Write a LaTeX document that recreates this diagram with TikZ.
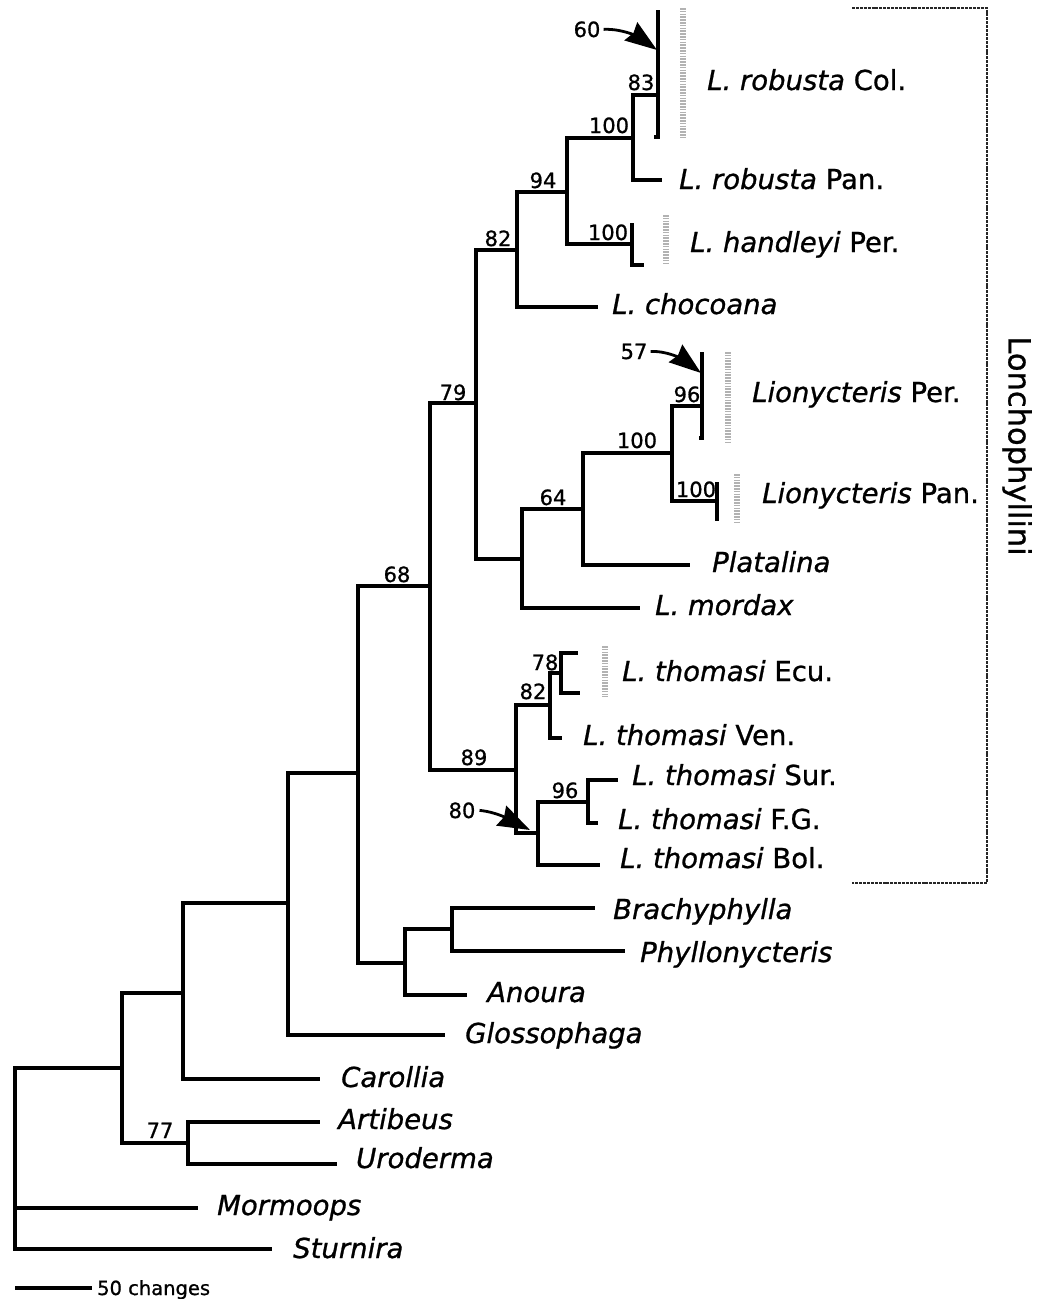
\documentclass[tikz,border=0pt]{standalone}
\usepackage{fontspec}
\setmainfont{DejaVu Sans}[FakeBold=0.9]
\usetikzlibrary{arrows.meta}
\begin{document}
\begin{tikzpicture}[x=1pt,y=-1pt,
  br/.style={line width=3.3pt, line join=miter},
  bar/.style={line width=3.8pt, line join=miter},
  tiplabel/.style={anchor=base west, inner sep=0pt, font=\fontsize{27.5}{30}\selectfont},
  bs/.style={anchor=base, inner sep=0pt, font=\fontsize{21}{23}\selectfont},
  pointer/.style={line width=2.8pt, -{Stealth[length=32pt,width=22pt,inset=3pt]}},
  speck/.style={line width=5.5pt, black!30, dash pattern=on 1.6pt off 1.2pt},
  clade/.style={line width=2.6pt, black!85, dash pattern=on 3pt off 0.9pt}]
\useasboundingbox (0,0) rectangle (1038,1299);

% ---- internal nodes
\coordinate (root) at (15,1150);
\coordinate (n1) at (122,1068);
\coordinate (n2) at (183,993);
\coordinate (nAU) at (188,1143);
\coordinate (n3) at (288,903);
\coordinate (n4) at (358,773);
\coordinate (nBA) at (405,963);
\coordinate (nBP) at (452,929);
\coordinate (n68) at (430,586);
\coordinate (n79) at (476,403);
\coordinate (n89) at (516,770);
\coordinate (n82) at (517,250);
\coordinate (n94) at (567,192);
\coordinate (nR) at (633,138);
\coordinate (n83) at (658,95);
\coordinate (nH) at (632,244);
\coordinate (nM) at (522,559);
\coordinate (n64) at (583,509);
\coordinate (nL) at (672,453);
\coordinate (n96) at (702,406);
\coordinate (nLP) at (717,501);
\coordinate (nT82) at (550,705);
\coordinate (n78) at (561,673);
\coordinate (n80) at (538,833);
\coordinate (nT96) at (588,802);

% ---- tip ends
\coordinate (tMor) at (198,1208);
\coordinate (tStu) at (272,1249);
\coordinate (tCar) at (320,1079);
\coordinate (tArt) at (320,1122);
\coordinate (tUro) at (337,1164);
\coordinate (tGlo) at (445,1035);
\coordinate (tAno) at (467,995);
\coordinate (tBra) at (595,908);
\coordinate (tPhy) at (625,951);
\coordinate (tCho) at (598,307);
\coordinate (tRP) at (662,180);
\coordinate (tMorX) at (640,608);
\coordinate (tPla) at (690,565);
\coordinate (tVen) at (562,738);
\coordinate (tEcuA) at (578,653);
\coordinate (tEcuB) at (580,693);
\coordinate (tSur) at (618,780);
\coordinate (tFG) at (598,823);
\coordinate (tBol) at (600,865);

% ---- branches
\draw[br] (root) |- (n1);
\draw[br] (root) |- (tMor);
\draw[br] (root) |- (tStu);
\draw[br] (n1) |- (n2);
\draw[br] (n1) |- (nAU);
\draw[br] (nAU) |- (tArt);
\draw[br] (nAU) |- (tUro);
\draw[br] (n2) |- (n3);
\draw[br] (n2) |- (tCar);
\draw[br] (n3) |- (n4);
\draw[br] (n3) |- (tGlo);
\draw[br] (n4) |- (n68);
\draw[br] (n4) |- (nBA);
\draw[br] (nBA) |- (nBP);
\draw[br] (nBA) |- (tAno);
\draw[br] (nBP) |- (tBra);
\draw[br] (nBP) |- (tPhy);
\draw[br] (n68) |- (n79);
\draw[br] (n68) |- (n89);
\draw[br] (n79) |- (n82);
\draw[br] (n79) |- (nM);
\draw[br] (n82) |- (n94);
\draw[br] (n82) |- (tCho);
\draw[br] (n94) |- (nR);
\draw[br] (n94) |- (nH);
\draw[br] (nR) |- (n83);
\draw[br] (nR) |- (tRP);
\draw[br] (nM) |- (n64);
\draw[br] (nM) |- (tMorX);
\draw[br] (n64) |- (nL);
\draw[br] (n64) |- (tPla);
\draw[br] (nL) |- (n96);
\draw[br] (nL) |- (nLP);
\draw[br] (n89) |- (nT82);
\draw[br] (n89) |- (n80);
\draw[br] (nT82) |- (n78);
\draw[br] (nT82) |- (tVen);
\draw[br] (n78) |- (tEcuA);
\draw[br] (n78) |- (tEcuB);
\draw[br] (n80) |- (nT96);
\draw[br] (n80) |- (tBol);
\draw[br] (nT96) |- (tSur);
\draw[br] (nT96) |- (tFG);

% ---- collapsed sample bars
\coordinate (b83a) at (658,10);  \coordinate (b83b) at (658,137); \coordinate (b83c) at (654,137);
\coordinate (b96a) at (702,352); \coordinate (b96b) at (702,438); \coordinate (b96c) at (699,438);
\coordinate (bLPa) at (717,482); \coordinate (bLPb) at (717,521);
\coordinate (bHa) at (632,223);  \coordinate (bHb) at (632,265);  \coordinate (bHc) at (644,265);
\draw[bar] (b83a) -- (b83b) -- (b83c);
\draw[bar] (b96a) -- (b96b) -- (b96c);
\draw[bar] (bLPa) -- (bLPb);
\draw[br] (bHa) -- (bHb) -- (bHc);

% ---- grey stippled sample bars
\draw[speck] (683,8) -- (683,137);
\draw[speck] (666,215) -- (666,265);
\draw[speck] (728,352) -- (728,442);
\draw[speck] (737,474) -- (737,524);
\draw[speck] (605,646) -- (605,697);

% ---- clade bracket
\coordinate (k1) at (852,8); \coordinate (k2) at (987,8);
\coordinate (k3) at (987,883); \coordinate (k4) at (852,883);
\draw[clade] (k1) -- (k2) -- (k3) -- (k4);
\node[rotate=-90, inner sep=0pt, font=\fontsize{30.5}{32}\selectfont] (lon) at (1017,446) {Lonchophyllini};

% ---- tip labels
\node[tiplabel] (lRC) at (707,90) {\textit{L. robusta} Col.};
\node[tiplabel] (lRP) at (679,189) {\textit{L. robusta} Pan.};
\node[tiplabel] (lHP) at (690,252) {\textit{L. handleyi} Per.};
\node[tiplabel] (lCh) at (612,314) {\textit{L. chocoana}};
\node[tiplabel] (lLPe) at (752,402) {\textit{Lionycteris} Per.};
\node[tiplabel] (lLPa) at (762,503) {\textit{Lionycteris} Pan.};
\node[tiplabel] (lPl) at (712,572) {\textit{Platalina}};
\node[tiplabel] (lMo) at (655,615) {\textit{L. mordax}};
\node[tiplabel] (lTE) at (622,681) {\textit{L. thomasi} Ecu.};
\node[tiplabel] (lTV) at (583,745) {\textit{L. thomasi} Ven.};
\node[tiplabel] (lTS) at (632,785) {\textit{L. thomasi} Sur.};
\node[tiplabel] (lTF) at (618,829) {\textit{L. thomasi} F.G.};
\node[tiplabel] (lTB) at (620,868) {\textit{L. thomasi} Bol.};
\node[tiplabel] (lBr) at (613,919) {\textit{Brachyphylla}};
\node[tiplabel] (lPh) at (640,962) {\textit{Phyllonycteris}};
\node[tiplabel] (lAn) at (487,1002) {\textit{Anoura}};
\node[tiplabel] (lGl) at (465,1043) {\textit{Glossophaga}};
\node[tiplabel] (lCa) at (341,1087) {\textit{Carollia}};
\node[tiplabel] (lAr) at (338,1129) {\textit{Artibeus}};
\node[tiplabel] (lUr) at (356,1168) {\textit{Uroderma}};
\node[tiplabel] (lMm) at (217,1215) {\textit{Mormoops}};
\node[tiplabel] (lSt) at (293,1258) {\textit{Sturnira}};

% ---- bootstrap values
\node[bs] (b60) at (587,37) {60};
\node[bs] (b83) at (641,90) {83};
\node[bs] (b100r) at (609,133) {100};
\node[bs] (b94) at (543,188) {94};
\node[bs] (b100h) at (608,240) {100};
\node[bs] (b82) at (498,246) {82};
\node[bs] (b79) at (453,400) {79};
\node[bs] (b57) at (634,359) {57};
\node[bs] (b96) at (687,402) {96};
\node[bs] (b100l) at (637,448) {100};
\node[bs] (b100p) at (696,497) {100};
\node[bs] (b64) at (553,505) {64};
\node[bs] (b68) at (397,582) {68};
\node[bs] (b78) at (545,670) {78};
\node[bs] (b82t) at (533,699) {82};
\node[bs] (b89) at (474,765) {89};
\node[bs] (b80) at (462,818) {80};
\node[bs] (b96t) at (565,798) {96};
\node[bs] (b77) at (160,1138) {77};

% ---- pointer arrows
\coordinate (p60) at (657,50);
\coordinate (p57) at (701,373);
\coordinate (p80) at (530,830);
\draw[pointer] ([xshift=3pt]b60.east) .. controls +(22,-1) and +(-14,-10) .. (p60);
\draw[pointer] ([xshift=3pt]b57.east) .. controls +(20,-1) and +(-13,-10) .. (p57);
\draw[pointer] ([xshift=4pt]b80.east) .. controls +(20,2) and +(-14,-7) .. (p80);

% ---- scale bar
\coordinate (s1) at (15,1288); \coordinate (s2) at (92,1288);
\draw[br] (s1) -- (s2);
\node[anchor=base west, inner sep=0pt, font=\fontsize{19.5}{21}\selectfont] (sl) at (97,1295) {50 changes};
\end{tikzpicture}
\end{document}
